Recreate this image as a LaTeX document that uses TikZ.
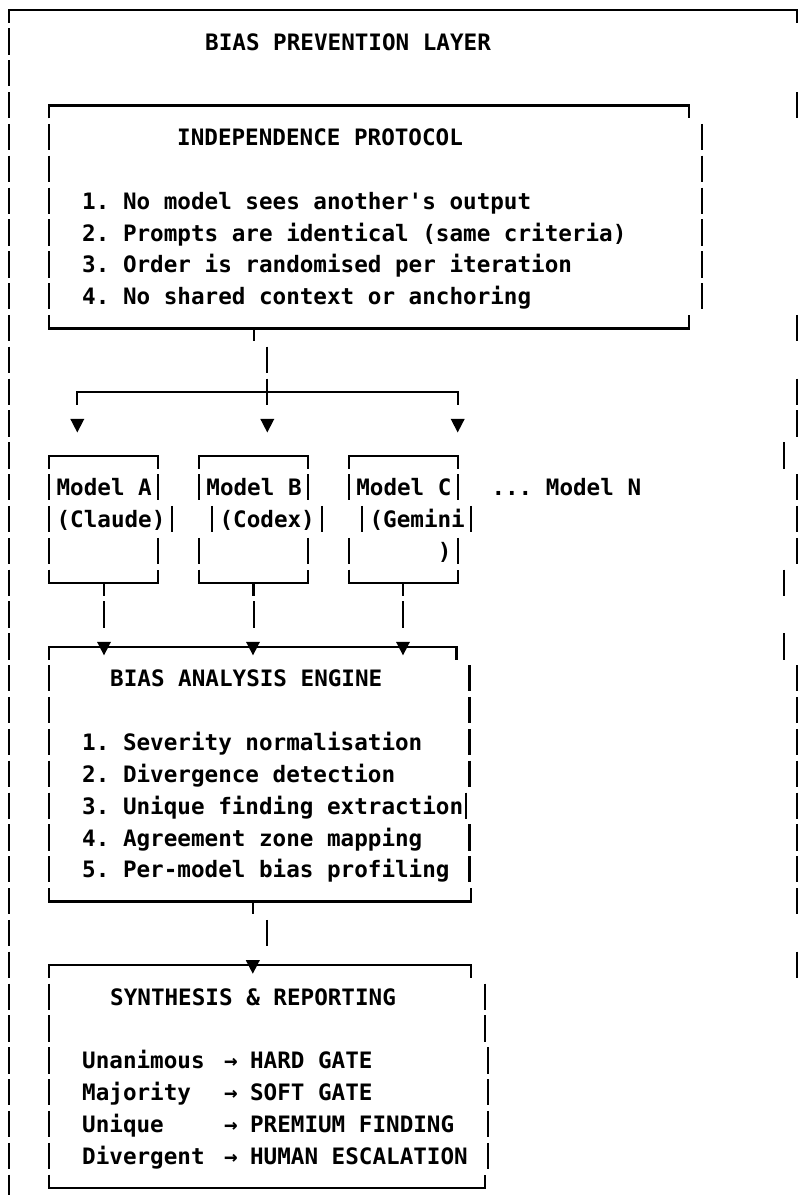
\documentclass[tikz,border=0pt]{standalone}
\usepackage{fontspec}
\setmonofont{DejaVu Sans Mono}
\newcommand\AVb[2]{\draw[ln] (#1,{10+31.84*(#2)-13.5}) -- (#1,{10+31.84*(#2)+12.8});}
\newcommand\ATop[3]{\draw[ln] (#1,{10+31.84*(#3)+12.8}) -- (#1,{10+31.84*(#3)}) -- (#2,{10+31.84*(#3)}) -- (#2,{10+31.84*(#3)+12.8});}
\newcommand\ABot[3]{\draw[ln] (#1,{10+31.84*(#3)-13.5}) -- (#1,{10+31.84*(#3)}) -- (#2,{10+31.84*(#3)}) -- (#2,{10+31.84*(#3)-13.5});}
\newcommand\ATick[2]{\draw[ln] (#1,{10+31.84*(#2)}) -- (#1,{10+31.84*(#2)+12.8});}
\newcommand\ATri[2]{\fill (#1-7,{10+31.84*(#2)-5}) -- (#1+7,{10+31.84*(#2)-5}) -- (#1,{10+31.84*(#2)+8.5}) -- cycle;}
\newcommand\ATxt[4]{\node[txt] (#1) at (#2,{10+31.84*(#3)+8.2}) {#4};}
\begin{document}
\begin{tikzpicture}[x=1pt,y=-1pt,
  ln/.style={line width=2.2pt, line cap=butt, line join=miter},
  txt/.style={inner sep=0pt, anchor=base west, font=\ttfamily\bfseries\fontsize{22.6}{27}\selectfont}]
\fill[white] (0,0) rectangle (805,1195);
\useasboundingbox (0,0) rectangle (805,1195);

% outer frame
\ATop{9}{797}{0}
\foreach \r in {1,...,37} {\AVb{9}{\r}}
\foreach \r in {3,10,12,13,15,16,17,21,22,23,24,25,26,27,28,30} {\AVb{797}{\r}}
\foreach \r in {14,18,20} {\AVb{784}{\r}}
\ATxt{title}{205}{1}{BIAS PREVENTION LAYER}

% independence protocol
\ATop{49.3}{689}{3}
\foreach \r in {4,...,9} {\AVb{49.3}{\r}\AVb{702.3}{\r}}
\ABot{49.3}{689}{10}
\ATick{254}{10}
\ATxt{indep}{177}{4}{INDEPENDENCE PROTOCOL}
\ATxt{i1}{82}{6}{1. No model sees another's output}
\ATxt{i2}{82}{7}{2. Prompts are identical (same criteria)}
\ATxt{i3}{82}{8}{3. Order is randomised per iteration}
\ATxt{i4}{82}{9}{4. No shared context or anchoring}

% fan-out
\AVb{267.3}{11}
\ATop{76.7}{457.7}{12}
\AVb{267.3}{12}
\ATri{77.3}{13}
\ATri{267.3}{13}
\ATri{457.7}{13}

% model boxes
\ATop{49.3}{158.3}{14}
\ATop{199}{308.3}{14}
\ATop{349}{457.7}{14}
\foreach \r in {15,17} {\AVb{49.3}{\r}\AVb{158.3}{\r}\AVb{199}{\r}\AVb{308.3}{\r}\AVb{349}{\r}\AVb{457.7}{\r}}
\AVb{49.3}{16}\AVb{171.7}{16}
\AVb{212.3}{16}\AVb{321.7}{16}
\AVb{362.3}{16}\AVb{471}{16}
\ABot{49.3}{158.3}{18}
\ABot{199}{308.3}{18}
\ABot{349}{457.7}{18}
\ATick{104}{18}\ATick{253.5}{18}\ATick{402.6}{18}
\AVb{104}{19}\AVb{254}{19}\AVb{402.6}{19}
\ATxt{ma}{56.4}{15}{Model A}
\ATxt{mb}{206.2}{15}{Model B}
\ATxt{mc}{356.1}{15}{Model C}
\ATxt{mn}{491.3}{15}{... Model N}
\ATxt{ma2}{56.4}{16}{(Claude)}
\ATxt{mb2}{219.4}{16}{(Codex)}
\ATxt{mc2}{369.4}{16}{(Gemini}
\ATxt{mc3}{437.7}{17}{)}

% bias analysis engine
\ATop{49}{456.4}{20}
\ATri{104}{20}\ATri{253}{20}\ATri{403}{20}
\foreach \r in {21,...,27} {\AVb{49}{\r}}
\foreach \r in {21,22,23,24,26,27} {\AVb{469.5}{\r}}
\AVb{466}{25}
\ABot{49}{470.8}{28}
\ATick{252.8}{28}
\ATxt{eng}{110}{21}{BIAS ANALYSIS ENGINE}
\ATxt{e1}{82}{23}{1. Severity normalisation}
\ATxt{e2}{82}{24}{2. Divergence detection}
\ATxt{e3}{82}{25}{3. Unique finding extraction}
\ATxt{e4}{82}{26}{4. Agreement zone mapping}
\ATxt{e5}{82}{27}{5. Per-model bias profiling}

% synthesis & reporting
\AVb{266.7}{29}
\ATop{49}{470.8}{30}
\ATri{252.8}{30}
\foreach \r in {31,...,36} {\AVb{49}{\r}}
\AVb{484.6}{31}\AVb{484.6}{32}
\foreach \r in {33,...,36} {\AVb{488}{\r}}
\ABot{49}{484.6}{37}
\ATxt{syn}{110}{31}{SYNTHESIS \& REPORTING}
\ATxt{s1}{82}{33}{Unanimous}
\ATxt{s2}{82}{34}{Majority}
\ATxt{s3}{82}{35}{Unique}
\ATxt{s4}{82}{36}{Divergent}
\foreach \r/\n in {33/a1,34/a2,35/a3,36/a4} {\ATxt{\n}{224}{\r}{→}}
\ATxt{g1}{249.9}{33}{HARD GATE}
\ATxt{g2}{249.9}{34}{SOFT GATE}
\ATxt{g3}{249.9}{35}{PREMIUM FINDING}
\ATxt{g4}{249.9}{36}{HUMAN ESCALATION}
\end{tikzpicture}
\end{document}
